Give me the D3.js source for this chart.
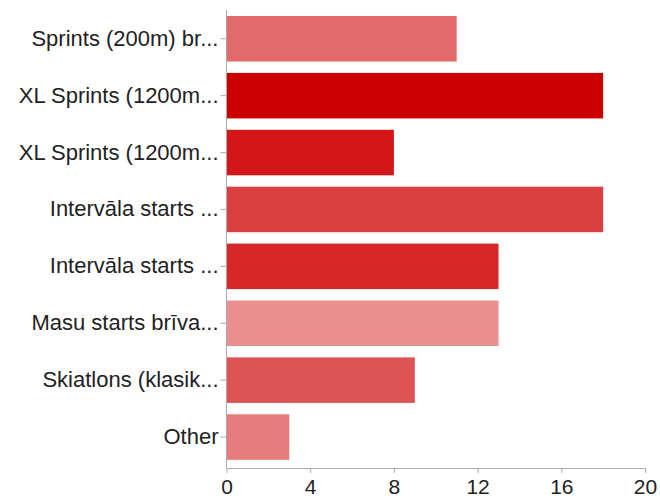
<!DOCTYPE html>
<html>
<head>
<meta charset="utf-8">
<script src="https://cdn.jsdelivr.net/npm/d3@7"></script>
<style>
body { margin: 0; background: #fff; }
svg text { font-family: "Liberation Sans", Arial, sans-serif; }
</style>
</head>
<body>
<script>
var categories = [
	"Sprints (200m) br...",
	"XL Sprints (1200m...",
	"XL Sprints (1200m...",
	"Intervāla starts ...",
	"Intervāla starts ...",
	"Masu starts brīva...",
	"Skiatlons (klasik...",
	"Other"
];
var counts = [11, 18, 8, 18, 13, 13, 9, 3];
var colors = ["#e36a6a", "#cc0000", "#d31719", "#da4040", "#d62828", "#ea9090", "#de5353", "#e67c7c"];
var xTicks = [0, 4, 8, 12, 16, 20];

var rows = categories.map(function(c, i){ return { key: i, label: c, value: counts[i], color: colors[i] }; });

var width = 660, height = 498;
var left = 226.5, right = 645, axisY = 468;

var svg = d3.select("body").append("svg").attr("width", width).attr("height", height);

var x = d3.scaleLinear().domain([0, 20]).range([left, right]);
var y = d3.scaleBand().domain(rows.map(function(d){ return d.key; }))
	.range([10.3, 465.5]).paddingInner(0.2).paddingOuter(0.1);

svg.append("g").selectAll("rect")
	.data(rows)
	.enter()
	.append("rect")
	.attr("x", x(0))
	.attr("y", function(d){ return y(d.key); })
	.attr("width", function(d){ return x(d.value) - x(0); })
	.attr("height", y.bandwidth())
	.style("fill", function(d){ return d.color; });

var xAxis = d3.axisBottom(x).tickValues(xTicks).tickSize(5).tickSizeOuter(0).tickPadding(6);
var xg = svg.append("g").attr("transform", "translate(0," + axisY + ")").call(xAxis);
xg.select(".domain").attr("stroke", "#aaa");
xg.selectAll(".tick line").attr("stroke", "#aaa");
xg.selectAll(".tick text").attr("font-size", 21).attr("fill", "#222");

var yAxis = d3.axisLeft(y).tickFormat(function(k){ return categories[k]; }).tickSize(6).tickSizeOuter(0).tickPadding(2);
var yg = svg.append("g").attr("transform", "translate(" + left + ",0)").call(yAxis);
yg.select(".domain").attr("stroke", "#aaa").attr("d", "M0,10V" + axisY);
yg.selectAll(".tick line").attr("stroke", "#aaa");
yg.selectAll(".tick text").attr("font-size", 22).attr("fill", "#222");
</script>
</body>
</html>
